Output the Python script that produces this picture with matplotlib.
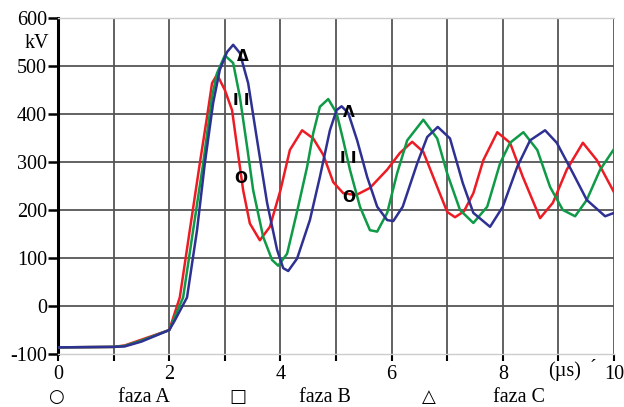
import matplotlib.pyplot as plt
import numpy as np

# values (time in us, voltage in kV)
x_a = [0, 1, 1.2, 1.5, 2.0, 2.19, 2.37, 2.55, 2.68, 2.77, 2.86, 3.0, 3.13, 3.22, 3.33, 3.45,
       3.63, 3.81, 4.0, 4.17, 4.39, 4.59, 4.77, 4.95, 5.13, 5.36, 5.61, 5.92, 6.15, 6.37, 6.57,
       6.82, 7.0, 7.14, 7.3, 7.47, 7.65, 7.9, 8.13, 8.36, 8.67, 8.9, 9.15, 9.44, 9.69, 10.0]
y_a = [-86, -85, -82, -70, -50, 18, 158, 297, 394, 464, 482, 450, 408, 332, 241, 172,
       137, 165, 241, 325, 366, 349, 315, 258, 235, 231, 246, 284, 319, 342, 321,
       248, 196, 185, 197, 235, 304, 362, 340, 269, 183, 215, 284, 340, 304, 237]

x_b = [0, 1, 1.2, 1.5, 2.0, 2.25, 2.43, 2.61, 2.77, 2.86, 3.0, 3.15, 3.27, 3.4, 3.51, 3.69,
       3.85, 3.96, 4.12, 4.3, 4.48, 4.59, 4.71, 4.86, 5.01, 5.13, 5.25, 5.43, 5.61, 5.74, 5.92,
       6.1, 6.28, 6.57, 6.82, 7.0, 7.23, 7.47, 7.72, 7.95, 8.13, 8.37, 8.62, 8.85, 9.08, 9.3,
       9.51, 9.75, 10.0]
y_b = [-86, -85, -83, -72, -50, 18, 158, 297, 436, 485, 522, 506, 436, 332, 241, 144,
       96, 84, 109, 197, 290, 360, 415, 431, 402, 345, 284, 207, 158, 155, 194,
       277, 345, 388, 349, 276, 200, 173, 207, 297, 340, 362, 325, 248, 200, 187,
       221, 284, 327]

x_c = [0, 1, 1.2, 1.5, 2.0, 2.1, 2.32, 2.5, 2.64, 2.79, 2.91, 3.04, 3.15, 3.27, 3.42, 3.58,
       3.76, 3.94, 4.05, 4.14, 4.3, 4.53, 4.71, 4.89, 5.01, 5.1, 5.22, 5.38, 5.56, 5.74, 5.92,
       6.03, 6.2, 6.46, 6.64, 6.83, 7.05, 7.28, 7.47, 7.77, 8.0, 8.26, 8.49, 8.76, 8.97, 9.26,
       9.51, 9.84, 10.0]
y_c = [-86, -85, -84, -74, -50, -30, 18, 158, 297, 423, 492, 529, 544, 527, 464, 346,
       215, 117, 79, 73, 99, 179, 269, 366, 408, 416, 402, 345, 269, 207, 179,
       177, 207, 297, 352, 373, 349, 256, 194, 165, 207, 290, 345, 366, 340, 277,
       221, 187, 194]

marks = [("O", 3.29, 265), ("I I", 3.29, 429), ("Δ", 3.33, 519),
         ("O", 5.22, 227), ("I I", 5.22, 308), ("Λ", 5.23, 402)]

legend_items = [("○", "faza A"), ("□", "faza B"), ("△", "faza C")]

plt.rcParams["font.family"] = ["Liberation Serif", "DejaVu Sans"]
fs = 14.5

fig = plt.figure(figsize=(6.24, 4.07), dpi=100)
ax = fig.add_axes([0.093, 0.130, 0.891, 0.826])

for yy in range(0, 600, 100):
    ax.axhline(yy, color="#555555", lw=1.3, zorder=1)
for xx in range(1, 11):
    ax.axvline(xx, color="#555555", lw=1.3, zorder=1)

ax.plot(x_a, y_a, color="#ed1c24", lw=1.8, zorder=3)
ax.plot(x_b, y_b, color="#0f9a48", lw=1.8, zorder=3)
ax.plot(x_c, y_c, color="#2e3192", lw=1.8, zorder=4)

for s, mx, my in marks:
    ax.text(mx, my, s, ha="center", va="center", fontsize=11, fontweight="bold",
            fontfamily="DejaVu Sans", color="black", zorder=5)

ax.set_xlim(0, 10)
ax.set_ylim(-100, 600)
ax.set_yticks(range(-100, 700, 100))
ax.set_yticklabels([str(v) for v in range(-100, 700, 100)], fontsize=fs)
ax.set_xticks(range(0, 11))
ax.set_xticklabels([str(v) if v % 2 == 0 else "" for v in range(0, 11)], fontsize=fs)
ax.tick_params(axis="y", direction="out", length=7, width=1.8, pad=1)
ax.tick_params(axis="x", direction="out", length=5, width=1.5, pad=3)

ax.spines["left"].set_linewidth(2.2)
ax.spines["left"].set_color("black")
for side in ["top", "bottom"]:
    ax.spines[side].set_color("#cccccc")
    ax.spines[side].set_linewidth(1.0)
ax.spines["right"].set_visible(False)

fig.text(37 / 624, 1 - 43 / 407, "kV", ha="center", va="center", fontsize=fs)
fig.text(565 / 624, 1 - 371 / 407, "(µs)", ha="center", va="center", fontsize=fs)
fig.text(593 / 624, 1 - 370 / 407, "´", ha="center", va="center", fontsize=fs)

sym_x = [56, 238, 429]
lab_x = [118, 299, 493]
for (sym, lab), sx, lx in zip(legend_items, sym_x, lab_x):
    fig.text(sx / 624, 1 - 397 / 407, sym, ha="center", va="center",
             fontfamily="DejaVu Sans", fontsize=13)
    fig.text(lx / 624, 1 - 397 / 407, lab, ha="left", va="center", fontsize=fs)

fig.savefig("out.png", dpi=100)
